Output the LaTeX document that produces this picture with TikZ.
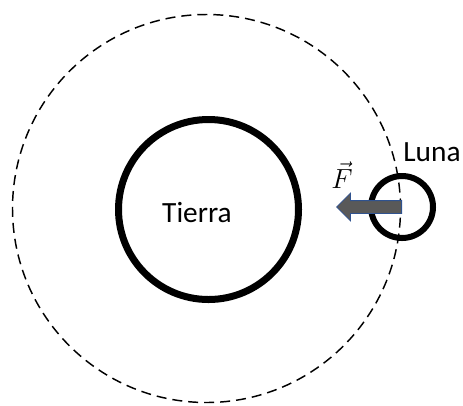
\documentclass[tikz,border=0pt]{standalone}
\usepackage{fontspec}
\setmainfont{Carlito}
\usetikzlibrary{shapes.arrows, positioning}

\definecolor{forcefill}{HTML}{595959}
\definecolor{forceline}{HTML}{2F528F}

\begin{document}
\begin{tikzpicture}[
    x=0.75pt, y=-0.75pt,
    body/.style={circle, draw=black, inner sep=0pt},
    orbit/.style={circle, draw=black, dash pattern=on 7.5pt off 4.5pt, line width=1.1pt, inner sep=0pt},
    label/.style={font=\fontsize{22}{26}\selectfont, inner sep=0pt},
    force/.style={single arrow, shape border rotate=180, fill=forcefill, draw=forceline,
                  line width=0.6pt, inner sep=0pt, minimum height=48.75pt,
                  text height=9pt, single arrow head extend=5.6pt}
]
\useasboundingbox (0,0) rectangle (463,405);
\node[orbit, minimum size=291pt] (orbit) at (206.5,208.5) {};
\node[body, line width=5.25pt, minimum size=135pt] (tierra) at (208.5,209.5) {};
\node[body, line width=4.5pt, minimum size=46.5pt] (luna) at (402,207) {};
\node[label] (tierratxt) at (197,213) {Tierra};
\node[label, anchor=center] (lunatxt) at (432,152) {Luna};
\node[force, anchor=tail] (fuerza) at (luna.center) {};
\node[label, font=\fontsize{20}{24}\selectfont] (ftxt) at (342,175) {$\vec{F}$};
\end{tikzpicture}
\end{document}
